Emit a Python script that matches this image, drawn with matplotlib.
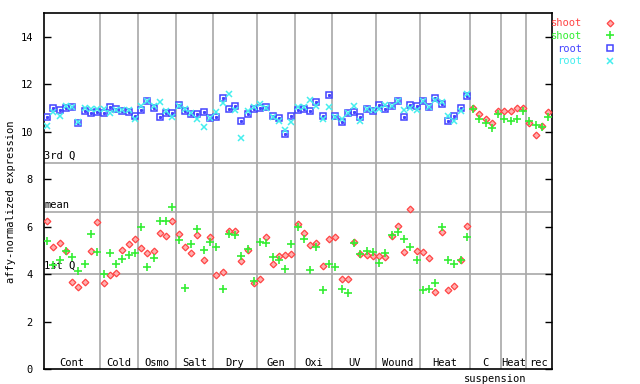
import numpy as np
import matplotlib
matplotlib.use('Agg')
from matplotlib import pyplot as plt

plt.rcParams['font.family'] = 'DejaVu Sans Mono'
plt.rcParams['font.size'] = 7.5

nan = np.nan

# experiment groups along the x axis (number of samples in each)
groups = ['Cont', 'Cold', 'Osmo', 'Salt', 'Dry', 'Gen', 'Oxi', 'UV', 'Wound', 'Heat', 'C', 'Heat', 'rec']
group_sizes = [9, 6, 6, 6, 7, 6, 6, 7, 7, 8, 5, 4, 4]

# shoot replicate 1 (red diamonds)
shoot1 = [6.24, 5.15, 5.31, 4.98, 3.67, 3.45, 3.67, 4.98, 6.20,
          3.62, 3.96, 4.05, 5.02, 5.27, 5.48,
          5.10, 4.89, 4.98, 5.74, 5.61, 6.24,
          5.70, 5.15, 4.89, 5.65, 4.60, 5.57,
          3.96, 4.09, 5.82, 5.82, 4.55, 5.02, 3.62,
          3.79, 5.57, 4.43, 4.76, 4.81, 4.85,
          6.12, 5.74, 5.23, 5.31, 4.34, 5.48,
          5.57, 3.79, 3.79, 5.36, 4.85, 4.81, 4.76,
          4.76, 4.72, 5.61, 6.03, 4.93, 6.75, 4.98,
          4.93, 4.68, 3.24, 5.78, 3.33, 3.50, 4.60, 6.03,
          10.98, 10.73, 10.52, 10.35, 10.85,
          10.85, 10.85, 10.98, 10.98,
          10.35, 9.84, 10.22, 10.81]

# shoot replicate 2 (green pluses)
shoot2 = [5.40, 4.38, 4.60, 4.98, 4.72, 4.13, 4.43, 5.70, 4.93,
          4.00, 4.89, 4.43, 4.64, 4.81, 4.89,
          5.99, 4.30, 4.68, 6.24, 6.24, 6.84,
          5.44, 3.41, 5.27, 5.91, 5.02, 5.36,
          5.15, 3.37, 5.70, 5.65, 4.76, 5.06, 3.71,
          5.36, 5.31, 4.72, 4.60, 4.22, 5.27,
          5.99, 5.48, 4.17, 5.15, 3.33, 4.43,
          4.30, 3.37, 3.20, 5.31, 4.85, 4.98, 4.93,
          4.47, 4.89, 5.65, 5.78, 5.48, 5.15, 4.60,
          3.33, 3.37, 3.62, 5.99, 4.60, 4.43, 4.60, 5.57,
          10.94, 10.52, 10.35, 10.14, 10.73,
          10.52, 10.43, 10.52, 10.85,
          10.43, 10.26, 10.18, 10.60]

# root replicate 1 (blue squares)
root1 = [10.60, 10.98, 10.90, 10.98, 11.02, 10.35, 10.85, 10.77, 10.81,
         10.77, 11.02, 10.94, 10.85, 10.81, 10.68,
         10.90, 11.28, 10.98, 10.60, 10.77, 10.77,
         11.11, 10.85, 10.73, 10.73, 10.81, 10.56,
         10.60, 11.40, 10.94, 11.07, 10.43, 10.73, 10.94,
         10.98, 11.02, 10.64, 10.56, 9.92, 10.64,
         10.90, 10.94, 10.85, 11.23, 10.68, 11.53,
         10.68, 10.39, 10.77, 10.81, 10.60, 10.94, 10.85,
         11.11, 10.94, 11.07, 11.28, 10.60, 11.11, 11.07,
         11.28, 11.02, 11.40, 11.15, 10.47, 10.68, 10.98, 11.49,
         nan, nan, nan, nan, nan,
         nan, nan, nan, nan,
         nan, nan, nan, nan]

# root replicate 2 (cyan crosses)
root2 = [10.22, 10.81, 10.68, 11.07, 11.02, 10.39, 10.98, 10.94, 10.94,
         10.94, 10.77, 10.90, 10.90, 10.90, 10.52,
         11.07, 11.28, 11.07, 11.23, 10.85, 10.60,
         11.07, 10.94, 10.77, 10.52, 10.18, 10.56,
         10.81, 11.19, 11.57, 10.90, 9.75, 10.85, 11.02,
         11.15, 10.98, 10.60, 10.47, 10.05, 10.39,
         11.02, 11.02, 11.32, 11.07, 10.52, 11.02,
         10.60, 10.52, 10.77, 11.07, 10.47, 10.94, 10.90,
         10.94, 11.11, 11.07, 11.28, 10.90, 10.98, 10.90,
         11.28, 11.02, 11.32, 11.23, 10.68, 10.43, 10.85, 11.57,
         nan, nan, nan, nan, nan,
         nan, nan, nan, nan,
         nan, nan, nan, nan]

# quartile / mean reference lines
ref_labels = ['3rd Q', 'mean', '1st Q']
ref_values = [8.67, 6.6, 4.02]

red, green, blue, cyan = '#ff4444', '#33ee33', '#4444ff', '#44eeee'
grey = '#a8a8a8'

x = np.arange(len(shoot1))

fig = plt.figure(figsize=(6.4, 3.84), dpi=100)
ax = fig.add_axes([44/640, 15/384, 508/640, 356/384])

# group separators
bounds = np.cumsum(group_sizes)[:-1] - 0.5
for b in bounds:
    ax.axvline(b, color=grey, lw=1.2, zorder=1)
for lab, v in zip(ref_labels, ref_values):
    ax.axhline(v, color=grey, lw=1.2, zorder=1)
    ax.text(-0.45, v + 0.12, lab, ha='left', va='bottom', fontsize=7.5)

h1, = ax.plot(x, shoot1, ls='none', marker='D', ms=3.4, mfc='#ffb0b0', mec=red, mew=0.9, zorder=3)
h2, = ax.plot(x, shoot2, ls='none', marker='+', ms=6, mec=green, mew=1.2, zorder=3)
h3, = ax.plot(x, root1, ls='none', marker='s', ms=4.4, mfc='none', mec=blue, mew=1.1, zorder=3)
ax.plot(x, root1, ls='none', marker='s', ms=1.2, mfc=blue, mec=blue, zorder=3)
h4, = ax.plot(x, root2, ls='none', marker='x', ms=4.4, mec=cyan, mew=1.1, zorder=3)

# group labels inside the bottom of the plot
starts = np.concatenate([[0], np.cumsum(group_sizes)[:-1]])
for g, s, n in zip(groups, starts, group_sizes):
    ax.text(s + (n - 1) / 2, 0.05, g, ha='center', va='bottom', fontsize=7.5)
c_idx = groups.index('C')
ax.text(starts[c_idx] + (group_sizes[c_idx] - 1) / 2 + 1.5, -0.2, 'suspension',
        ha='center', va='top', fontsize=7.5)

ax.set_xlim(-0.5, len(x) - 0.4)
ax.set_ylim(0, 15)
ax.set_xticks([])
ax.set_yticks(np.arange(0, 15, 2))
ax.tick_params(axis='y', direction='in', length=5, width=1, left=True, right=True, pad=8)
for sp in ax.spines.values():
    sp.set_linewidth(1.2)
ax.set_ylabel('affy-normalized expression', fontsize=7.5)
ax.yaxis.set_label_coords(-0.055, 0.47)

leg = ax.legend([h1, h2, h3, h4], ['shoot', 'shoot', 'root', 'root'],
                loc='upper left', bbox_to_anchor=(0.990, 0.997), frameon=False,
                markerfirst=False, labelcolor=[red, green, blue, cyan],
                handlelength=0.6, handletextpad=2.4, labelspacing=0.26,
                borderaxespad=0, fontsize=7.5)

fig.savefig('out.png', dpi=100)
